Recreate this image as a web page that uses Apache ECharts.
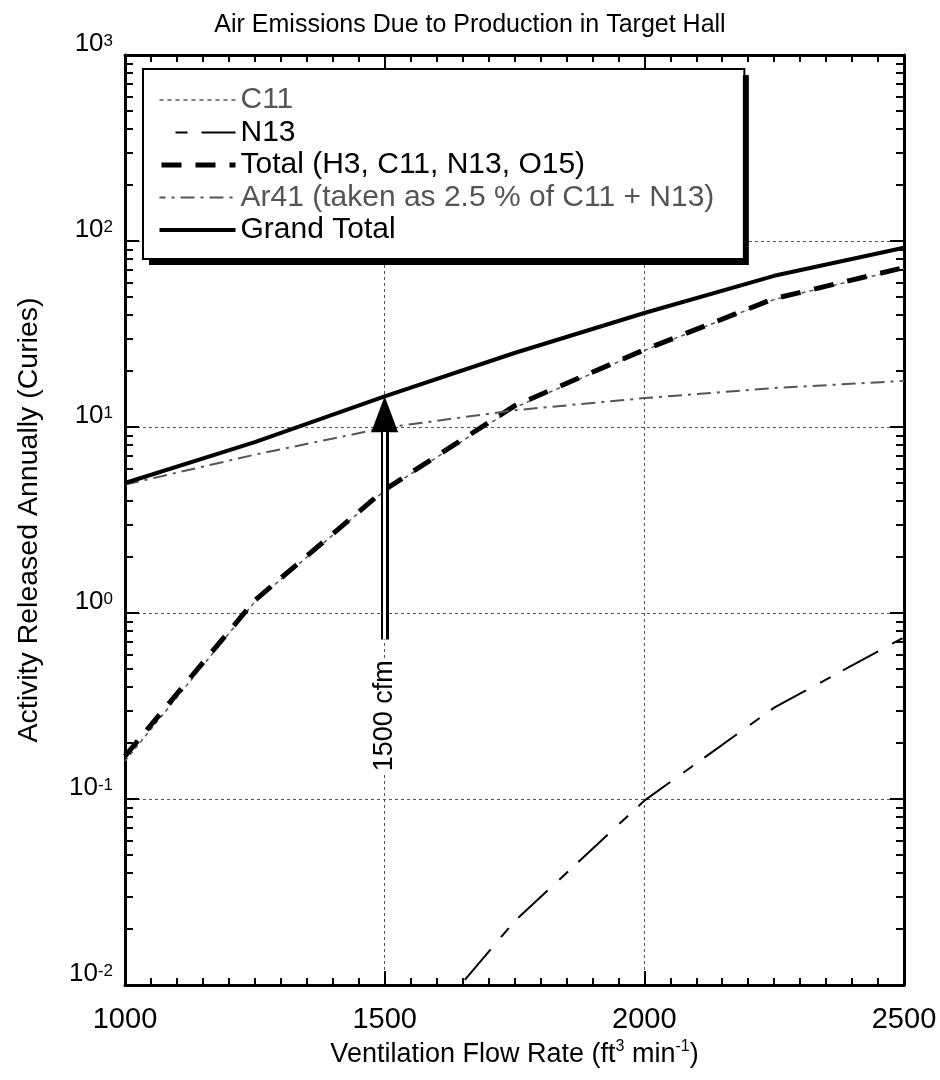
<!DOCTYPE html>
<html>
<head>
<meta charset="utf-8">
<script src="https://cdn.jsdelivr.net/npm/echarts@6/dist/echarts.min.js"></script>
<style>
  html, body { margin: 0; padding: 0; background: #fff; }
  #chart { width: 940px; height: 1080px; }
</style>
</head>
<body>
<div id="chart"></div>
<script>
"use strict";
// values (x in cfm, y in Curies)
const flowRate = [1000, 1250, 1500, 1750, 2000, 2250, 2500];
const c11 = [0.16, 1.15, 4.55, 12.7, 25.8, 48.5, 71];
const total = [0.17, 1.17, 4.6, 13, 26, 49, 72];
const ar41 = [4.9, 7.1, 9.9, 12.3, 14.3, 16.2, 17.7];
const grandTotal = [5.0, 8.3, 14.6, 25, 41, 65, 92];
const n13Flow = [1500, 1750, 2000, 2250, 2500];
const n13 = [0.0033, 0.022, 0.098, 0.31, 0.74];

const xTicks = [1000, 1500, 2000, 2500];
const yDecades = [0.01, 0.1, 1, 10, 100, 1000];
const yMinorTicks = [
  0.02, 0.03, 0.04, 0.05, 0.06, 0.07, 0.08, 0.09,
  0.2, 0.3, 0.4, 0.5, 0.6, 0.7, 0.8, 0.9,
  2, 3, 4, 5, 6, 7, 8, 9,
  20, 30, 40, 50, 60, 70, 80, 90,
  200, 300, 400, 500, 600, 700, 800, 900
];

// arrow at 1500 cfm
const arrowX = 1500;
const arrowFrom = 0.72;
const arrowTo = 11.7;
const arrowShaftTop = 9.4;
const arrowLabelY = 0.28;

const seriesNames = ['C11', 'N13', 'Total (H3, C11, N13, O15)', 'Ar41 (taken as 2.5 % of C11 + N13)', 'Grand Total'];

const FONT = '"Liberation Sans", Arial, Helvetica, sans-serif';
const pairs = (xs, ys) => xs.map((x, i) => [x, ys[i]]);

const chart = echarts.init(document.getElementById('chart'));

const frameLine = { show: true, onZero: false, lineStyle: { color: '#000', width: 3 } };
const gridLine = { show: true, lineStyle: { color: '#555', width: 1, type: [3, 3] } };

const xBase = (pos) => ({
  type: 'value', position: pos, min: 1000, max: 2500, interval: 500,
  axisLine: frameLine,
  axisTick: { show: true, inside: true, length: 14, lineStyle: { color: '#000', width: 2 } },
  minorTick: { show: true, splitNumber: 10, length: 7, lineStyle: { color: '#000', width: 2 } },
  splitLine: { show: false }
});

const yMajor = (pos) => ({
  type: 'log', logBase: 10, position: pos, min: 0.01, max: 1000,
  axisLine: frameLine,
  axisTick: { show: true, inside: true, length: 14, customValues: yDecades, lineStyle: { color: '#000', width: 2 } },
  splitLine: { show: false },
  axisLabel: { show: false }
});

const yMinor = (pos) => ({
  type: 'log', logBase: 10, position: pos, min: 0.01, max: 1000,
  axisLine: { show: false },
  axisTick: { show: true, inside: true, length: 8, customValues: yMinorTicks, lineStyle: { color: '#000', width: 2 } },
  splitLine: { show: false },
  axisLabel: { show: false }
});

const xBottom = Object.assign(xBase('bottom'), {
  axisLabel: { show: true, color: '#000', fontSize: 29, fontFamily: FONT, margin: 20,
    customValues: xTicks, formatter: (v) => String(v) },
  splitLine: gridLine,
  name: 'Ventilation Flow Rate (ft{sup|3} min{sup|-1})',
  nameLocation: 'middle',
  nameGap: 47,
  nameTextStyle: {
    color: '#000', fontSize: 27, fontFamily: FONT, lineHeight: 32,
    rich: {
      sup: { fontSize: 16, fontFamily: FONT, color: '#000', verticalAlign: 'top', lineHeight: 16 }
    }
  }
});
const xTop = Object.assign(xBase('top'), { axisLabel: { show: false } });

const yLeft = yMajor('left');
yLeft.axisLabel = {
  show: true, margin: 12, customValues: yDecades, verticalAlign: 'bottom',
  formatter: function (v) {
    const e = Math.round(Math.log10(v));
    return '{b|10}{s|' + e + '}';
  },
  rich: {
    b: { fontSize: 26, fontFamily: FONT, color: '#000', lineHeight: 22 },
    s: { fontSize: 17, fontFamily: FONT, color: '#000', verticalAlign: 'top', lineHeight: 17 }
  }
};
yLeft.splitLine = gridLine;
yLeft.name = 'Activity Released Annually (Curies)';
yLeft.nameLocation = 'middle';
yLeft.nameGap = 81;
yLeft.nameTextStyle = { color: '#000', fontSize: 28.5, fontFamily: FONT };

const legendItems = [
  { name: seriesNames[0], textStyle: { color: '#555' } },
  { name: seriesNames[1] },
  { name: seriesNames[2] },
  { name: seriesNames[3], textStyle: { color: '#555' } },
  { name: seriesNames[4] }
];
const legendBase = {
  orient: 'vertical',
  left: 143, top: 69,
  padding: [16, 30, 14, 14],
  itemWidth: 76, itemHeight: 14, itemGap: 2.5,
  borderRadius: 0,
  selectedMode: false,
  textStyle: { fontSize: 30, fontFamily: FONT, color: '#000', lineHeight: 30 }
};

const option = {
  backgroundColor: '#fff',
  animation: false,
  title: {
    text: 'Air Emissions Due to Production in Target Hall',
    left: 'center', top: 8,
    textStyle: { color: '#000', fontSize: 25, fontWeight: 'normal', fontFamily: FONT }
  },
  grid: { left: 125, right: 36, top: 55, bottom: 95, containLabel: false },
  legend: [
    // visible legend with its frame
    Object.assign({}, legendBase, {
      z: 6,
      backgroundColor: 'rgba(0,0,0,0)',
      borderColor: '#000', borderWidth: 2,
      itemStyle: { opacity: 0 },
      lineStyle: { width: 'inherit' },
      data: legendItems
    }),
    // white box with the offset black shadow behind it
    Object.assign({}, legendBase, {
      z: 5,
      backgroundColor: '#fff',
      borderWidth: 0,
      shadowColor: '#000', shadowBlur: 0, shadowOffsetX: 6, shadowOffsetY: 6,
      itemStyle: { opacity: 0 },
      lineStyle: { opacity: 0 },
      textStyle: Object.assign({}, legendBase.textStyle, { color: 'rgba(0,0,0,0)' }),
      data: legendItems.map((d) => ({ name: d.name, textStyle: { color: 'rgba(0,0,0,0)' } }))
    })
  ],
  xAxis: [xBottom, xTop],
  yAxis: [yLeft, yMinor('left'), yMajor('right'), yMinor('right')],
  series: [
    {
      name: seriesNames[0], type: 'line', symbol: 'none', data: pairs(flowRate, c11),
      itemStyle: { color: '#555' },
      lineStyle: { color: '#555', width: 1.5, type: [4, 4] }
    },
    {
      name: seriesNames[1], type: 'line', symbol: 'none', data: pairs(n13Flow, n13),
      itemStyle: { color: '#000' },
      lineStyle: { color: '#000', width: 2, type: [12, 14, 40, 16], dashOffset: 66 }
    },
    {
      name: seriesNames[2], type: 'line', symbol: 'none', data: pairs(flowRate, total),
      itemStyle: { color: '#000' },
      lineStyle: { color: '#000', width: 5, type: [20, 14] }
    },
    {
      name: seriesNames[3], type: 'line', symbol: 'none', data: pairs(flowRate, ar41),
      itemStyle: { color: '#555' },
      lineStyle: { color: '#555', width: 2, type: [14, 6, 3, 6] }
    },
    {
      name: seriesNames[4], type: 'line', symbol: 'none', data: pairs(flowRate, grandTotal),
      itemStyle: { color: '#000' },
      lineStyle: { color: '#000', width: 4, type: 'solid' },
      markLine: {
        silent: true,
        animation: false,
        symbol: ['none', 'none'],
        label: { show: false },
        emphasis: { disabled: true },
        data: [
          [
            { coord: [arrowX, arrowFrom], lineStyle: { color: '#000', width: 8, type: 'solid' } },
            { coord: [arrowX, arrowTo], symbol: 'triangle', symbolSize: [27, 36] }
          ],
          [
            { coord: [arrowX, arrowFrom], lineStyle: { color: '#fff', width: 3, type: 'solid' } },
            { coord: [arrowX, arrowShaftTop] }
          ]
        ]
      },
      markPoint: {
        silent: true,
        symbol: 'rect', symbolSize: 1,
        itemStyle: { color: 'rgba(0,0,0,0)' },
        label: {
          show: true, position: 'inside', rotate: 90,
          color: '#000', fontSize: 27, fontFamily: FONT,
          backgroundColor: '#fff', padding: [0, 2]
        },
        data: [{ coord: [arrowX, arrowLabelY], value: '1500 cfm', label: { formatter: '1500 cfm' } }]
      }
    }
  ]
};

chart.setOption(option);
</script>
</body>
</html>
